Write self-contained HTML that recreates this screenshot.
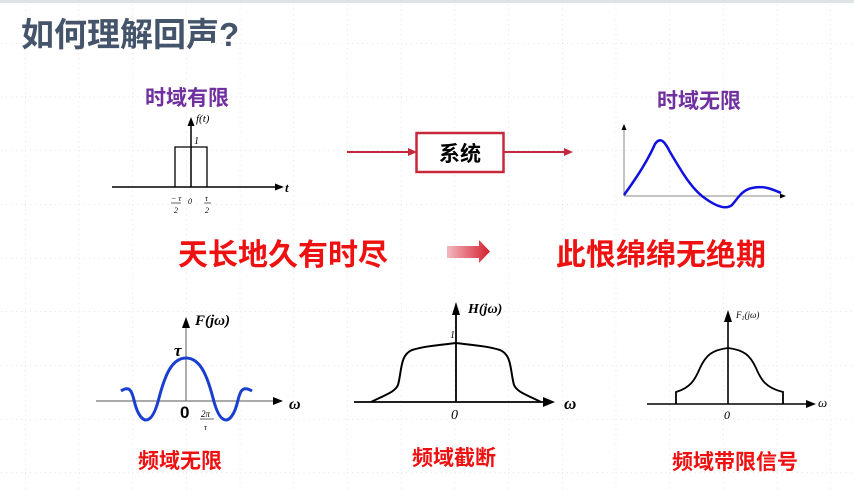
<!DOCTYPE html>
<html><head><meta charset="utf-8"><style>
html,body{margin:0;padding:0;background:#fff;}
svg{display:block;}
text{font-family:"Liberation Sans","Noto Sans CJK SC",sans-serif;}
.s{font-family:"Liberation Serif","Noto Serif CJK SC",serif;font-style:italic;}
</style></head><body>
<svg width="854" height="492" viewBox="0 0 854 492" xmlns="http://www.w3.org/2000/svg">
<defs>
<pattern id="g" x="25" y="43" width="53.7" height="53.7" patternUnits="userSpaceOnUse">
<line x1="0" y1="0" x2="0" y2="53.7" stroke="#c8c8c8" stroke-width="1" stroke-dasharray="1 4"/>
<line x1="0" y1="0" x2="53.7" y2="0" stroke="#c8c8c8" stroke-width="1" stroke-dasharray="1 4"/>
</pattern>
<linearGradient id="ag" x1="0" x2="1"><stop offset="0" stop-color="#f4b8c0"/><stop offset="1" stop-color="#d2202f"/></linearGradient>
</defs>
<rect width="854" height="492" fill="url(#g)"/>
<rect x="0" y="0" width="854" height="3" fill="#dde3e6"/>
<text x="21" y="46" font-size="33" font-weight="bold" fill="#44546a">如何理解回声?</text>

<!-- time limited -->
<text x="145" y="105" font-size="21" font-weight="bold" fill="#7030a0">时域有限</text>
<line x1="112" y1="187" x2="278" y2="187" stroke="#000" stroke-width="1.5"/>
<polygon points="284,187 275,183.5 275,190.5" fill="#000"/>
<line x1="191" y1="187" x2="191" y2="124" stroke="#000" stroke-width="1.5"/>
<polygon points="191,117 187.5,126 194.5,126" fill="#000"/>
<polyline points="175,187 175,147 207,147 207,187" fill="none" stroke="#000" stroke-width="1.3"/>
<text x="196" y="122" class="s" font-size="11">f(t)</text>
<text x="194" y="144" class="s" font-size="10" font-style="normal">1</text>
<text x="285" y="192" class="s" font-size="13" font-weight="bold">t</text>
<text x="171" y="201" class="s" font-size="8">− τ</text>
<line x1="171" y1="203" x2="181" y2="203" stroke="#000" stroke-width="0.6"/>
<text x="174" y="213" class="s" font-size="8" font-style="normal">2</text>
<text x="188" y="204" class="s" font-size="8" font-style="normal">0</text>
<text x="205" y="201" class="s" font-size="8">τ</text>
<line x1="204" y1="203" x2="211" y2="203" stroke="#000" stroke-width="0.6"/>
<text x="205" y="213" class="s" font-size="8" font-style="normal">2</text>

<!-- system -->
<line x1="347" y1="152" x2="410" y2="152" stroke="#c8283c" stroke-width="2"/>
<polygon points="417,152 408,148 408,156" fill="#c8283c"/>
<rect x="416.5" y="133" width="87" height="39" fill="#fff" stroke="#c8283c" stroke-width="2.5"/>
<text x="460" y="161" font-size="21" font-weight="bold" text-anchor="middle" fill="#000">系统</text>
<line x1="504" y1="152" x2="566" y2="152" stroke="#c8283c" stroke-width="2"/>
<polygon points="573,152 564,148 564,156" fill="#c8283c"/>

<!-- time infinite -->
<text x="657" y="108" font-size="21" font-weight="bold" fill="#7030a0">时域无限</text>
<line x1="624" y1="196" x2="781" y2="196" stroke="#888" stroke-width="1"/>
<polygon points="786,196 780,193.5 780,198.5" fill="#000"/>
<line x1="624" y1="196" x2="624" y2="128" stroke="#888" stroke-width="1"/>
<polygon points="624,124 621.5,130 626.5,130" fill="#000"/>
<path d="M624,195 C635,180 648,160 655,144 C660,137 664,140 670,152 C682,172 692,190 706,199 C716,206 726,210 732,205 C738,198 742,190 752,188 C764,185 774,190 781,193" fill="none" stroke="#1010e0" stroke-width="2.5"/>

<!-- red text -->
<text x="178" y="265" font-size="30" font-weight="bold" fill="#ee1111">天长地久有时尽</text>
<polygon points="447,246 479,246 479,240 490,251.5 479,263 479,258 447,258" fill="url(#ag)"/>
<text x="556" y="265" font-size="30" font-weight="bold" fill="#ee1111">此恨绵绵无绝期</text>

<!-- bottom left -->
<line x1="96" y1="401" x2="275" y2="401" stroke="#777" stroke-width="1.2"/>
<polygon points="283,401 273,397 273,405" fill="#000"/>
<line x1="186" y1="401" x2="186" y2="326" stroke="#777" stroke-width="1.2"/>
<polygon points="186,317 182,328 190,328" fill="#000"/>
<path d="M121,391 C130,385 132,392 134,400 C138,418 144,420 146,420 C152,420 156,410 159,398 C165,375 172,358 186,358 C200,358 207,375 213,398 C216,410 220,420 226,420 C228,420 234,418 238,400 C240,392 242,385 252,391" fill="none" stroke="#1a3fcf" stroke-width="3"/>
<text x="195" y="325" class="s" font-size="15" font-weight="bold">F(jω)</text>
<text x="174" y="356" class="s" font-size="17" font-weight="bold">τ</text>
<text x="180" y="418" font-size="17" font-weight="bold" fill="#000">0</text>
<text x="201" y="417" class="s" font-size="9">2π</text>
<line x1="200" y1="419" x2="214" y2="419" stroke="#000" stroke-width="0.6"/>
<text x="204" y="430" class="s" font-size="8">τ</text>
<text x="289" y="409" class="s" font-size="16" font-weight="bold">ω</text>
<text x="138" y="468" font-size="21" font-weight="bold" fill="#ee1111">频域无限</text>

<!-- middle -->
<line x1="354" y1="402" x2="545" y2="402" stroke="#000" stroke-width="1.8"/>
<polygon points="555,402 543,397 543,407" fill="#000"/>
<line x1="456" y1="402" x2="456" y2="313" stroke="#000" stroke-width="1.8"/>
<polygon points="456,302 452,315 460,315" fill="#000"/>
<path d="M371,402 C385,395 395,392 398,385 C402,370 400,355 412,350 C425,346 440,345 456,343 C472,345 487,346 500,350 C512,355 510,370 514,385 C517,392 527,395 541,402" fill="none" stroke="#000" stroke-width="2"/>
<text x="468" y="313" class="s" font-size="14" font-weight="bold">H(jω)</text>
<text x="450" y="338" class="s" font-size="10" font-style="normal">1</text>
<text x="451" y="419" class="s" font-size="14" font-style="normal">0</text>
<text x="564" y="409" class="s" font-size="17" font-weight="bold">ω</text>
<text x="412" y="465" font-size="21" font-weight="bold" fill="#ee1111">频域截断</text>

<!-- right -->
<line x1="647" y1="404" x2="808" y2="404" stroke="#000" stroke-width="1.6"/>
<polygon points="816,404 806,400 806,408" fill="#000"/>
<line x1="728" y1="404" x2="728" y2="320" stroke="#000" stroke-width="1.6"/>
<polygon points="728,310 724,322 732,322" fill="#000"/>
<path d="M676,404 L676,392 C690,388 695,380 700,368 C706,355 712,350 728,348 C744,350 750,355 756,368 C761,380 766,388 783,392 L783,404" fill="none" stroke="#000" stroke-width="1.8"/>
<text x="736" y="318" class="s" font-size="9">F<tspan font-size="6" dy="2">1</tspan><tspan dy="-2">(jω)</tspan></text>
<text x="724" y="419" class="s" font-size="12" font-style="normal">0</text>
<text x="818" y="407" class="s" font-size="13">ω</text>
<text x="672" y="469" font-size="21" font-weight="bold" fill="#ee1111">频域带限信号</text>
</svg>
</body></html>
